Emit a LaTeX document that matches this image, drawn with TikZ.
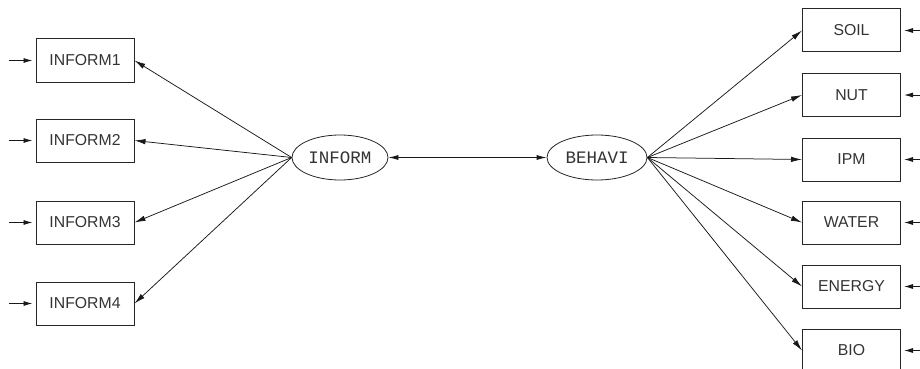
\documentclass[tikz,border=0pt]{standalone}
\usepackage{fontspec}
\setmainfont{Liberation Sans}
\newfontfamily\cour{Liberation Mono}
\usetikzlibrary{arrows.meta,shapes.geometric}
\begin{document}
\begin{tikzpicture}[x=1pt,y=-1pt,
  obs/.style={draw=black!85,line width=1pt,rectangle,minimum width=98pt,minimum height=43pt,inner sep=0pt,font=\fontsize{15.8}{17}\selectfont,text=black!80},
  lat/.style={draw=black!85,line width=0.8pt,ellipse,minimum width=96pt,minimum height=45pt,inner sep=0pt,font=\cour\fontsize{17.5}{19}\selectfont,text=black!80},
  path/.style={draw=black!90,line width=0.75pt,-{Latex[length=11pt,width=5.5pt]}},
  err/.style={draw=black!90,line width=0.9pt,-{Latex[length=9pt,width=5pt]},shorten >=3pt}]
\useasboundingbox (0,0) rectangle (920,369);
\begin{scope}
\clip (0,0) rectangle (920,369);
% left indicators
\node[obs] (i1) at (85,60.5) {INFORM1};
\node[obs] (i2) at (85,140.5) {INFORM2};
\node[obs] (i3) at (85,222.5) {INFORM3};
\node[obs] (i4) at (85,303.5) {INFORM4};
% right indicators
\node[obs] (soil) at (851.5,30.5) {SOIL};
\node[obs] (nut) at (851.5,95) {NUT};
\node[obs] (ipm) at (851.5,159.5) {IPM};
\node[obs] (water) at (851.5,222.5) {WATER};
\node[obs] (energy) at (851.5,286.5) {ENERGY};
\node[obs] (bio) at (851.5,350.5) {BIO};
% latent
\node[lat] (inf) at (340,157.5) {INFORM};
\node[lat,minimum width=100pt] (beh) at (597,157.5) {BEHAVI};
% error terms
\foreach \n/\y in {i1/60.5,i2/140.5,i3/222.5,i4/303.5}{
  \coordinate (e\n) at (9,\y);
  \draw[err] (e\n) -- (\n.west);
}
\foreach \n/\y in {soil/30.5,nut/95,ipm/159.5,water/222.5,energy/286.5,bio/350.5}{
  \coordinate (e\n) at (920,\y);
  \draw[err] (e\n) -- (\n.east);
}
% loadings
\foreach \n in {i1,i2,i3,i4}{
  \draw[path] (inf.west) -- (\n.east);
}
\foreach \n in {soil,nut,ipm,water,energy,bio}{
  \draw[path] (beh.east) -- (\n.west);
}
% covariance
\draw[draw=black!90,line width=0.8pt,{Latex[length=10pt,width=5pt]}-{Latex[length=10pt,width=5pt]}] (inf.east) -- (beh.west);
\end{scope}
\end{tikzpicture}
\end{document}
